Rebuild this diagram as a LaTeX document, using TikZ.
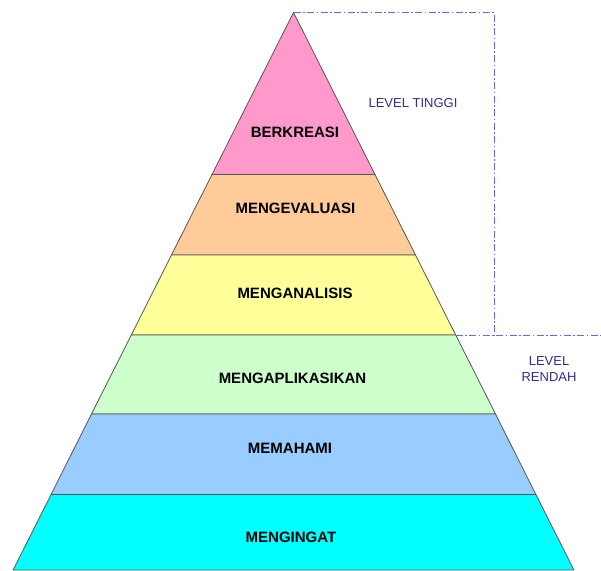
\documentclass[tikz,border=0pt]{standalone}
\usepackage{fontspec}
\setmainfont{Liberation Sans}
\definecolor{cPink}{HTML}{FF99CC}
\definecolor{cOrange}{HTML}{FFCC99}
\definecolor{cYellow}{HTML}{FFFF99}
\definecolor{cGreen}{HTML}{CCFFCC}
\definecolor{cBlue}{HTML}{99CCFF}
\definecolor{cCyan}{HTML}{00FFFF}
\definecolor{cEdge}{HTML}{555555}
\definecolor{cDash}{HTML}{6666EE}
\definecolor{cNavy}{HTML}{2E2E8C}
\tikzset{
  band/.style={draw=cEdge, line width=0.8pt, line join=round},
  lbl/.style={font=\fontsize{15}{17}\selectfont\bfseries, text=black, inner sep=0pt},
  lvl/.style={font=\fontsize{13}{16}\selectfont, text=cNavy, inner sep=0pt, align=center},
  dashdot/.style={draw=cDash, line width=1pt, dash pattern=on 7pt off 2.5pt on 1.5pt off 2.5pt}
}
\begin{document}
\begin{tikzpicture}[x=1pt,y=-1pt]
\useasboundingbox (0,0) rectangle (601,570);
% boundary coordinates
\coordinate (apex) at (293.5,12.5);
\coordinate (l1) at (212,174.5);  \coordinate (r1) at (375,174.5);
\coordinate (l2) at (171.5,255);  \coordinate (r2) at (415.5,255);
\coordinate (l3) at (131.3,335);  \coordinate (r3) at (455.7,335);
\coordinate (l4) at (91.5,414);   \coordinate (r4) at (495.5,414);
\coordinate (l5) at (51.1,494.5); \coordinate (r5) at (535.9,494.5);
\coordinate (l6) at (13.1,570);   \coordinate (r6) at (573.9,570);
% bands
\filldraw[band, fill=cPink]   (apex) -- (r1) -- (l1) -- cycle;
\filldraw[band, fill=cOrange] (l1) -- (r1) -- (r2) -- (l2) -- cycle;
\filldraw[band, fill=cYellow] (l2) -- (r2) -- (r3) -- (l3) -- cycle;
\filldraw[band, fill=cGreen]  (l3) -- (r3) -- (r4) -- (l4) -- cycle;
\filldraw[band, fill=cBlue]   (l4) -- (r4) -- (r5) -- (l5) -- cycle;
\filldraw[band, fill=cCyan]   (l5) -- (r5) -- (r6) -- (l6) -- cycle;
% labels
\node[lbl] (berkreasi) at (295,132.5) {BERKREASI};
\node[lbl] (mengevaluasi) at (295.5,208.5) {MENGEVALUASI};
\node[lbl] (menganalisis) at (295,293.5) {MENGANALISIS};
\node[lbl] (mengaplikasikan) at (292.5,378.5) {MENGAPLIKASIKAN};
\node[lbl] (memahami) at (290,448) {MEMAHAMI};
\node[lbl] (mengingat) at (291,537) {MENGINGAT};
% level bracket
\coordinate (tr) at (494,12.5);
\coordinate (br) at (494,335);
\coordinate (rend) at (601,335);
\draw[dashdot] (apex) -- (tr) -- (br);
\draw[dashdot] (r3) -- (rend);
\node[lvl] (tinggi) at (413,103) {LEVEL TINGGI};
\node[lvl] (rendah) at (549,369) {LEVEL\\RENDAH};
\end{tikzpicture}
\end{document}
